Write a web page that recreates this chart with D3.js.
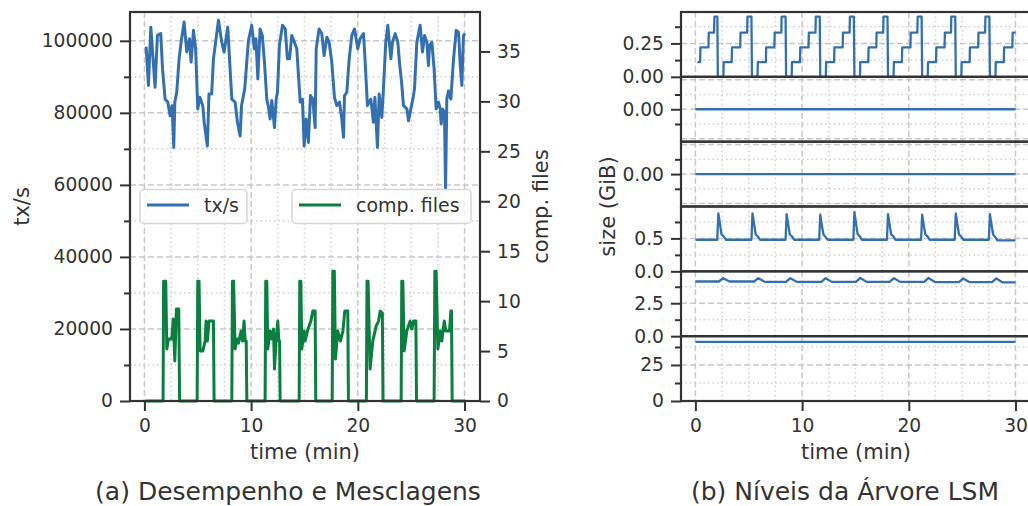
<!DOCTYPE html>
<html>
<head>
<meta charset="utf-8">
<script src="https://cdn.jsdelivr.net/npm/d3@7"></script>
<style>
  body { margin: 0; background: #fff; }
  svg { display: block; font-family: "DejaVu Sans", sans-serif; }
</style>
</head>
<body>
<div id="chart"></div>
<script>
// ---- data: (a) throughput and compaction files ----
const txTime = [0.16, 0.38, 0.6, 0.79, 1.0, 1.22, 1.53, 1.7, 1.94, 2.19, 2.41, 2.6, 2.75, 2.85, 3.03, 3.25, 3.44, 3.72, 3.97, 4.22,
  4.38, 4.6, 4.8, 5.0, 5.2, 5.47, 5.6, 5.9, 6.05, 6.3, 6.47, 6.72, 6.94, 7.25, 7.47, 7.81, 8.03, 8.19, 8.5, 8.72,
  8.97, 9.1, 9.4, 9.75, 10.06, 10.3, 10.45, 10.63, 10.84, 11.05, 11.25, 11.47, 11.6, 11.78, 11.94, 12.19, 12.35, 12.47, 12.65, 12.94,
  13.2, 13.4, 13.6, 13.81, 14.06, 14.28, 14.44, 14.6, 14.81, 14.97, 15.16, 15.37, 15.56, 15.78, 16.0, 16.1, 16.37, 16.62, 16.84, 17.1,
  17.31, 17.56, 17.81, 18.03, 18.28, 18.5, 18.66, 18.75, 18.97, 19.19, 19.44, 19.69, 20.0, 20.22, 20.53, 20.69, 20.9, 21.22, 21.46, 21.6,
  21.84, 22.0, 22.25, 22.4, 22.62, 22.81, 23.1, 23.25, 23.5, 23.75, 23.9, 24.1, 24.28, 24.6, 24.75, 24.97, 25.16, 25.31, 25.53, 25.84,
  26.06, 26.25, 26.47, 26.62, 26.72, 26.94, 27.15, 27.34, 27.56, 27.72, 27.81, 27.94, 28.12, 28.22, 28.34, 28.5, 28.72, 28.97, 29.22, 29.44,
  29.6, 29.75, 29.9, 30.06];
const txRate = [98400, 87600, 103800, 95900, 87100, 101500, 102000, 92200, 83800, 83000, 79200, 82000, 70400, 83000, 85700, 95000, 99600, 105200, 96900, 100600,
  94100, 102900, 97800, 81100, 84300, 82000, 77400, 70800, 85200, 85200, 95000, 100600, 105700, 99600, 96900, 103800, 92200, 83800, 83000, 77400,
  73600, 82000, 86600, 100100, 104300, 97800, 100600, 89400, 103300, 101500, 94100, 83800, 82000, 78300, 83400, 75900, 83800, 85700, 98700, 104300,
  103300, 95000, 95000, 101500, 99600, 97800, 90300, 83000, 83800, 70800, 78300, 71800, 84800, 83800, 75900, 97800, 103300, 102000, 95900, 101000,
  99600, 94100, 84300, 82000, 83000, 78300, 73200, 84800, 85700, 95000, 101500, 103300, 97800, 100600, 102000, 94100, 82000, 83800, 77400, 84300,
  70400, 85200, 78700, 86600, 99600, 104300, 95000, 99600, 102000, 99600, 94100, 88500, 82000, 81100, 77800, 81100, 83800, 86600, 99600, 104300,
  96900, 101500, 99600, 93100, 98700, 99600, 92200, 81100, 83000, 81100, 76900, 81100, 80200, 58800, 83800, 86100, 83800, 95000, 102900, 102400,
  93100, 87600, 101500, 102000];

const compTime = [0.15, 1.75, 1.8, 2.0, 2.1, 2.25, 2.56, 2.7, 2.85, 3.0, 3.22, 3.3,
  4.94, 5.0, 5.12, 5.22, 5.47, 5.69, 5.78, 5.9, 6.06, 6.47, 6.53,
  8.19, 8.25, 8.36, 8.5, 8.66, 8.81, 9.06, 9.19, 9.34, 9.44, 9.54, 9.6,
  11.31, 11.37, 11.47, 11.56, 11.78, 11.94, 12.1, 12.19, 12.35, 12.5, 12.6, 12.67, 12.72,
  14.5, 14.56, 14.66, 14.75, 14.97, 15.06, 15.28, 15.6, 15.78, 16.0, 16.06,
  17.6, 17.66, 17.8, 17.9, 18.12, 18.37, 18.6, 18.78, 19.06, 19.12,
  20.8, 20.86, 20.96, 21.15, 21.4, 21.72, 21.94, 22.1, 22.3, 22.36,
  24.06, 24.12, 24.22, 24.34, 24.59, 24.9, 25.06, 25.22, 25.44, 25.5,
  27.15, 27.22, 27.34, 27.5, 27.72, 27.87, 28.1, 28.25, 28.59, 28.72, 28.78, 28.84, 30.06];
const compFiles = [0, 0, 12, 12, 5.2, 6.2, 6.2, 8.2, 4.0, 9.2, 9.2, 0,
  0, 12, 12, 5, 5, 6, 8, 6, 8, 8, 0,
  0, 12, 12, 5.2, 6.2, 5.8, 7, 6, 8, 6, 6, 0,
  0, 12, 12, 5.2, 7, 6.2, 7.2, 3.2, 6.2, 8, 6, 6, 0,
  0, 12, 12, 5.2, 7, 6, 7, 8, 9, 9, 0,
  0, 13, 13, 4.2, 7, 6, 7, 9, 9, 0,
  0, 12, 12, 3.2, 6, 7.5, 8, 9, 8.8, 0,
  0, 12, 12, 5, 7, 8, 7.2, 8, 8, 0,
  0, 13, 13, 5.2, 7, 6, 8, 7, 7, 9, 9, 0, 0];

const timeTicks = [0, 10, 20, 30];
const txTicks = [0, 20000, 40000, 60000, 80000, 100000];
const fileTicks = [0, 5, 10, 15, 20, 25, 30, 35];

// ---- data: (b) LSM levels (GiB) ----
const l0Time = [0.19, 0.44, 0.47, 1.22, 1.25, 1.75, 1.78, 2.06, 2.1, 2.62, 2.65, 3.4, 3.43, 4.2, 4.23, 4.85, 4.88, 5.25, 5.3,
  5.82, 5.85, 6.6, 6.63, 7.4, 7.43, 8.05, 8.08, 8.45, 8.5, 9.02, 9.05, 9.8, 9.83, 10.6, 10.63, 11.25, 11.28, 11.65, 11.7,
  12.22, 12.25, 13.0, 13.03, 13.8, 13.83, 14.45, 14.48, 14.85, 14.9, 15.42, 15.45, 16.2, 16.23, 16.95, 16.98, 17.6, 17.63, 18.0, 18.05,
  18.57, 18.6, 19.35, 19.38, 20.15, 20.18, 20.8, 20.83, 21.2, 21.25, 21.77, 21.8, 22.55, 22.58, 23.35, 23.38, 23.95, 23.98, 24.35, 24.4,
  24.92, 24.95, 25.7, 25.73, 26.5, 26.53, 27.15, 27.18, 27.55, 27.6, 28.12, 28.15, 28.9, 28.93, 29.7, 29.73, 30.0];
const l0Size = [0.11, 0.11, 0.22, 0.22, 0.33, 0.33, 0.45, 0.45, 0, 0, 0.11, 0.11, 0.22, 0.22, 0.33, 0.33, 0.45, 0.45, 0,
  0, 0.11, 0.11, 0.22, 0.22, 0.33, 0.33, 0.45, 0.45, 0, 0, 0.11, 0.11, 0.22, 0.22, 0.33, 0.33, 0.45, 0.45, 0,
  0, 0.11, 0.11, 0.22, 0.22, 0.33, 0.33, 0.45, 0.45, 0, 0, 0.11, 0.11, 0.22, 0.22, 0.33, 0.33, 0.45, 0.45, 0,
  0, 0.11, 0.11, 0.22, 0.22, 0.33, 0.33, 0.45, 0.45, 0, 0, 0.11, 0.11, 0.22, 0.22, 0.33, 0.33, 0.45, 0.45, 0,
  0, 0.11, 0.11, 0.22, 0.22, 0.33, 0.33, 0.45, 0.45, 0, 0, 0.11, 0.11, 0.22, 0.22, 0.33, 0.33];
const l1Time = [0, 30];
const l1Size = [0, 0];
const l2Time = [0, 30];
const l2Size = [0, 0];
const l3Time = [0, 2.05, 2.15, 2.3, 2.45, 2.65, 2.85, 5.25, 5.35, 5.5, 5.65, 5.85, 6.05, 8.45, 8.55, 8.7, 8.85, 9.05, 9.25,
  11.6, 11.7, 11.85, 12.0, 12.2, 12.4, 14.8, 14.9, 15.05, 15.2, 15.4, 15.6, 17.95, 18.05, 18.2, 18.35, 18.55, 18.75,
  21.15, 21.25, 21.4, 21.55, 21.75, 21.95, 24.3, 24.4, 24.55, 24.7, 24.9, 25.1, 27.5, 27.6, 27.75, 27.9, 28.1, 28.3, 30.0];
const l3Size = [0.48, 0.48, 0.88, 0.72, 0.56, 0.53, 0.48, 0.48, 0.88, 0.72, 0.56, 0.53, 0.48, 0.48, 0.87, 0.71, 0.56, 0.53, 0.48,
  0.48, 0.86, 0.70, 0.56, 0.52, 0.48, 0.48, 0.90, 0.73, 0.57, 0.53, 0.48, 0.48, 0.87, 0.71, 0.56, 0.53, 0.48,
  0.48, 0.86, 0.70, 0.56, 0.53, 0.48, 0.48, 0.88, 0.72, 0.56, 0.53, 0.48, 0.48, 0.87, 0.71, 0.56, 0.52, 0.47, 0.47];
const l4Time = [0, 2.2, 2.6, 3.2, 5.5, 5.9, 6.5, 8.5, 8.9, 9.5, 11.8, 12.2, 12.8, 15.05, 15.45, 16.05,
  18.2, 18.6, 19.2, 21.45, 21.85, 22.45, 24.7, 25.1, 25.7, 27.8, 28.2, 28.8, 30.0];
const l4Size = [4.15, 4.15, 4.4, 4.15, 4.15, 4.4, 4.12, 4.12, 4.4, 4.12, 4.12, 4.4, 4.12, 4.12, 4.42, 4.12,
  4.12, 4.4, 4.12, 4.12, 4.42, 4.1, 4.1, 4.38, 4.1, 4.1, 4.38, 4.08, 4.08];
const l5Time = [0, 30];
const l5Size = [41, 41];

const levelPanels = [
  { time: l0Time, size: l0Size, domain: [0, 0.485], major: [0, 0.25], labels: [0, 0.25], minor: [0.125, 0.375], fmt: ".2f" },
  { time: l1Time, size: l1Size, domain: [-0.055, 0.055], major: [-0.05, 0, 0.05], labels: [0], minor: [-0.025, 0.025], fmt: ".2f" },
  { time: l2Time, size: l2Size, domain: [-0.055, 0.055], major: [-0.05, 0, 0.05], labels: [0], minor: [-0.025, 0.025], fmt: ".2f" },
  { time: l3Time, size: l3Size, domain: [0, 0.985], major: [0, 0.5], labels: [0, 0.5], minor: [0.25, 0.75], fmt: ".1f" },
  { time: l4Time, size: l4Size, domain: [0, 4.92], major: [0, 2.5], labels: [0, 2.5], minor: [1.25, 3.75], fmt: ".1f" },
  { time: l5Time, size: l5Size, domain: [0, 45], major: [0, 25], labels: [0, 25], minor: [12.5, 37.5], fmt: "d" }
];

// ---- drawing ----
const width = 1028, height = 506;
const blue = "#3470b0", green = "#0a7f3f", ink = "#333333";
const gridMajor = "#c8c8c8", gridMinor = "#cfcfcf";

const svg = d3.select("#chart").append("svg")
  .attr("width", width).attr("height", height)
  .style("background", "#fff");

const plotTop = 12, plotBottom = 401;
const minorTime = d3.range(0, 31, 2.5).filter(d => d % 10 !== 0);

function vGrid(g, x, y0, y1) {
  g.selectAll(null).data(minorTime).join("line")
    .attr("x1", d => x(d)).attr("x2", d => x(d)).attr("y1", y0).attr("y2", y1)
    .attr("stroke", gridMinor).attr("stroke-width", 1.5).attr("stroke-dasharray", "1.5,3");
  g.selectAll(null).data(timeTicks).join("line")
    .attr("x1", d => x(d)).attr("x2", d => x(d)).attr("y1", y0).attr("y2", y1)
    .attr("stroke", gridMajor).attr("stroke-width", 1.5).attr("stroke-dasharray", "6,3");
}
function hGrid(g, y, majors, minors, x0, x1) {
  g.selectAll(null).data(minors).join("line")
    .attr("x1", x0).attr("x2", x1).attr("y1", d => y(d)).attr("y2", d => y(d))
    .attr("stroke", gridMinor).attr("stroke-width", 1.5).attr("stroke-dasharray", "1.5,3");
  g.selectAll(null).data(majors).join("line")
    .attr("x1", x0).attr("x2", x1).attr("y1", d => y(d)).attr("y2", d => y(d))
    .attr("stroke", gridMajor).attr("stroke-width", 1.5).attr("stroke-dasharray", "6,3");
}
function styleAxis(g, size) {
  g.select(".domain").remove();
  g.selectAll(".tick line").attr("stroke", ink).attr("stroke-width", 2);
  g.selectAll(".tick text").attr("fill", ink).style("font-size", size + "px")
    .style("font-family", "DejaVu Sans");
}

// ===== (a) =====
const xA = d3.scaleLinear().domain([-1.35, 31.45]).range([130, 480]);
const yTx = d3.scaleLinear().domain([0, 108000]).range([plotBottom, plotTop]);
const yFiles = d3.scaleLinear().domain([0, 38.95]).range([plotBottom, plotTop]);

const gA = svg.append("g");
vGrid(gA, xA, plotTop, plotBottom);
hGrid(gA, yTx, txTicks, d3.range(10000, 108000, 20000), 130, 480);

const txData = txTime.map((t, i) => [t, txRate[i]]);
const compData = compTime.map((t, i) => [t, compFiles[i]]);

gA.append("path").datum(txData)
  .attr("fill", "none").attr("stroke", blue).attr("stroke-width", 3).attr("stroke-linejoin", "round")
  .attr("d", d3.line().x(d => xA(d[0])).y(d => yTx(d[1])));

// legend boxes, one per y axis
function legend(g, x, w, color, label) {
  g.append("rect").attr("x", x).attr("y", 189.5).attr("width", w).attr("height", 34)
    .attr("rx", 4).attr("fill", "#fff").attr("fill-opacity", 0.8)
    .attr("stroke", "#d6d6d6").attr("stroke-width", 1.5);
  g.append("line").attr("x1", x + 7).attr("x2", x + 49).attr("y1", 205).attr("y2", 205)
    .attr("stroke", color).attr("stroke-width", 3);
  g.append("text").attr("x", x + 64).attr("y", 212).attr("fill", ink)
    .style("font-size", "19px").text(label);
}
legend(gA, 140, 107, blue, "tx/s");

gA.append("path").datum(compData)
  .attr("fill", "none").attr("stroke", green).attr("stroke-width", 3).attr("stroke-linejoin", "round")
  .attr("d", d3.line().x(d => xA(d[0])).y(d => yFiles(d[1])));

legend(gA, 292, 179, green, "comp. files");

// spines
gA.append("rect").attr("x", 130).attr("y", plotTop).attr("width", 350).attr("height", plotBottom - plotTop)
  .attr("fill", "none").attr("stroke", ink).attr("stroke-width", 2.2);

// axes
gA.append("g").attr("transform", "translate(130,0)")
  .call(d3.axisLeft(yTx).tickValues(txTicks).tickSize(10).tickPadding(7).tickFormat(d3.format("d")))
  .call(g => styleAxis(g, 18.7));
gA.append("g").attr("transform", "translate(130,0)")
  .call(d3.axisLeft(yTx).tickValues(d3.range(10000, 108000, 20000)).tickSize(6).tickFormat(""))
  .call(g => styleAxis(g, 18.7));
gA.append("g").attr("transform", "translate(480,0)")
  .call(d3.axisRight(yFiles).tickValues(fileTicks).tickSize(10).tickPadding(7))
  .call(g => styleAxis(g, 18.7));
gA.append("g").attr("transform", `translate(0,${plotBottom})`)
  .call(d3.axisBottom(xA).tickValues(timeTicks).tickSize(10).tickPadding(8))
  .call(g => styleAxis(g, 18.7));

gA.append("text").attr("x", 305).attr("y", 459).attr("text-anchor", "middle")
  .attr("fill", ink).style("font-size", "21px").text("time (min)");
gA.append("text").attr("transform", `translate(29,${(plotTop + plotBottom) / 2}) rotate(-90)`)
  .attr("text-anchor", "middle").attr("fill", ink).style("font-size", "21px").text("tx/s");
gA.append("text").attr("transform", `translate(548,${(plotTop + plotBottom) / 2}) rotate(-90)`)
  .attr("text-anchor", "middle").attr("fill", ink).style("font-size", "21px").text("comp. files");
gA.append("text").attr("x", 288).attr("y", 500).attr("text-anchor", "middle")
  .attr("fill", ink).style("font-size", "25px").text("(a) Desempenho e Mesclagens");

// ===== (b) =====
const xB = d3.scaleLinear().domain([-1.35, 31.45]).range([681, 1031]);
const gB = svg.append("g");
const panelH = (plotBottom - plotTop) / levelPanels.length;

levelPanels.forEach((p, i) => {
  const y0 = plotTop + i * panelH, y1 = y0 + panelH;
  const y = d3.scaleLinear().domain(p.domain).range([y1, y0]);
  const g = gB.append("g");
  vGrid(g, xB, y0, y1);
  hGrid(g, y, p.major, p.minor, 681, 1031);
  g.append("path").datum(p.time.map((t, k) => [t, p.size[k]]))
    .attr("fill", "none").attr("stroke", blue).attr("stroke-width", 2.3).attr("stroke-linejoin", "round")
    .attr("d", d3.line().x(d => xB(d[0])).y(d => y(d[1])));
  g.append("g").attr("transform", "translate(681,0)")
    .call(d3.axisLeft(y).tickValues(p.labels).tickSize(10).tickPadding(7).tickFormat(d3.format(p.fmt)))
    .call(a => styleAxis(a, 18.7));
  g.append("g").attr("transform", "translate(681,0)")
    .call(d3.axisLeft(y).tickValues(p.minor).tickSize(6).tickFormat(""))
    .call(a => styleAxis(a, 18.7));
});
// panel frames
levelPanels.forEach((p, i) => {
  const y0 = plotTop + i * panelH;
  gB.append("rect").attr("x", 681).attr("y", y0).attr("width", 350).attr("height", panelH)
    .attr("fill", "none").attr("stroke", ink).attr("stroke-width", 2.2);
});
gB.append("g").attr("transform", `translate(0,${plotBottom})`)
  .call(d3.axisBottom(xB).tickValues(timeTicks).tickSize(10).tickPadding(8))
  .call(g => styleAxis(g, 18.7));

gB.append("text").attr("x", 856).attr("y", 459).attr("text-anchor", "middle")
  .attr("fill", ink).style("font-size", "21px").text("time (min)");
gB.append("text").attr("transform", `translate(615,${(plotTop + plotBottom) / 2}) rotate(-90)`)
  .attr("text-anchor", "middle").attr("fill", ink).style("font-size", "21px").text("size (GiB)");
gB.append("text").attr("x", 845).attr("y", 500).attr("text-anchor", "middle")
  .attr("fill", ink).style("font-size", "25px").text("(b) Níveis da Árvore LSM");
</script>
</body>
</html>
